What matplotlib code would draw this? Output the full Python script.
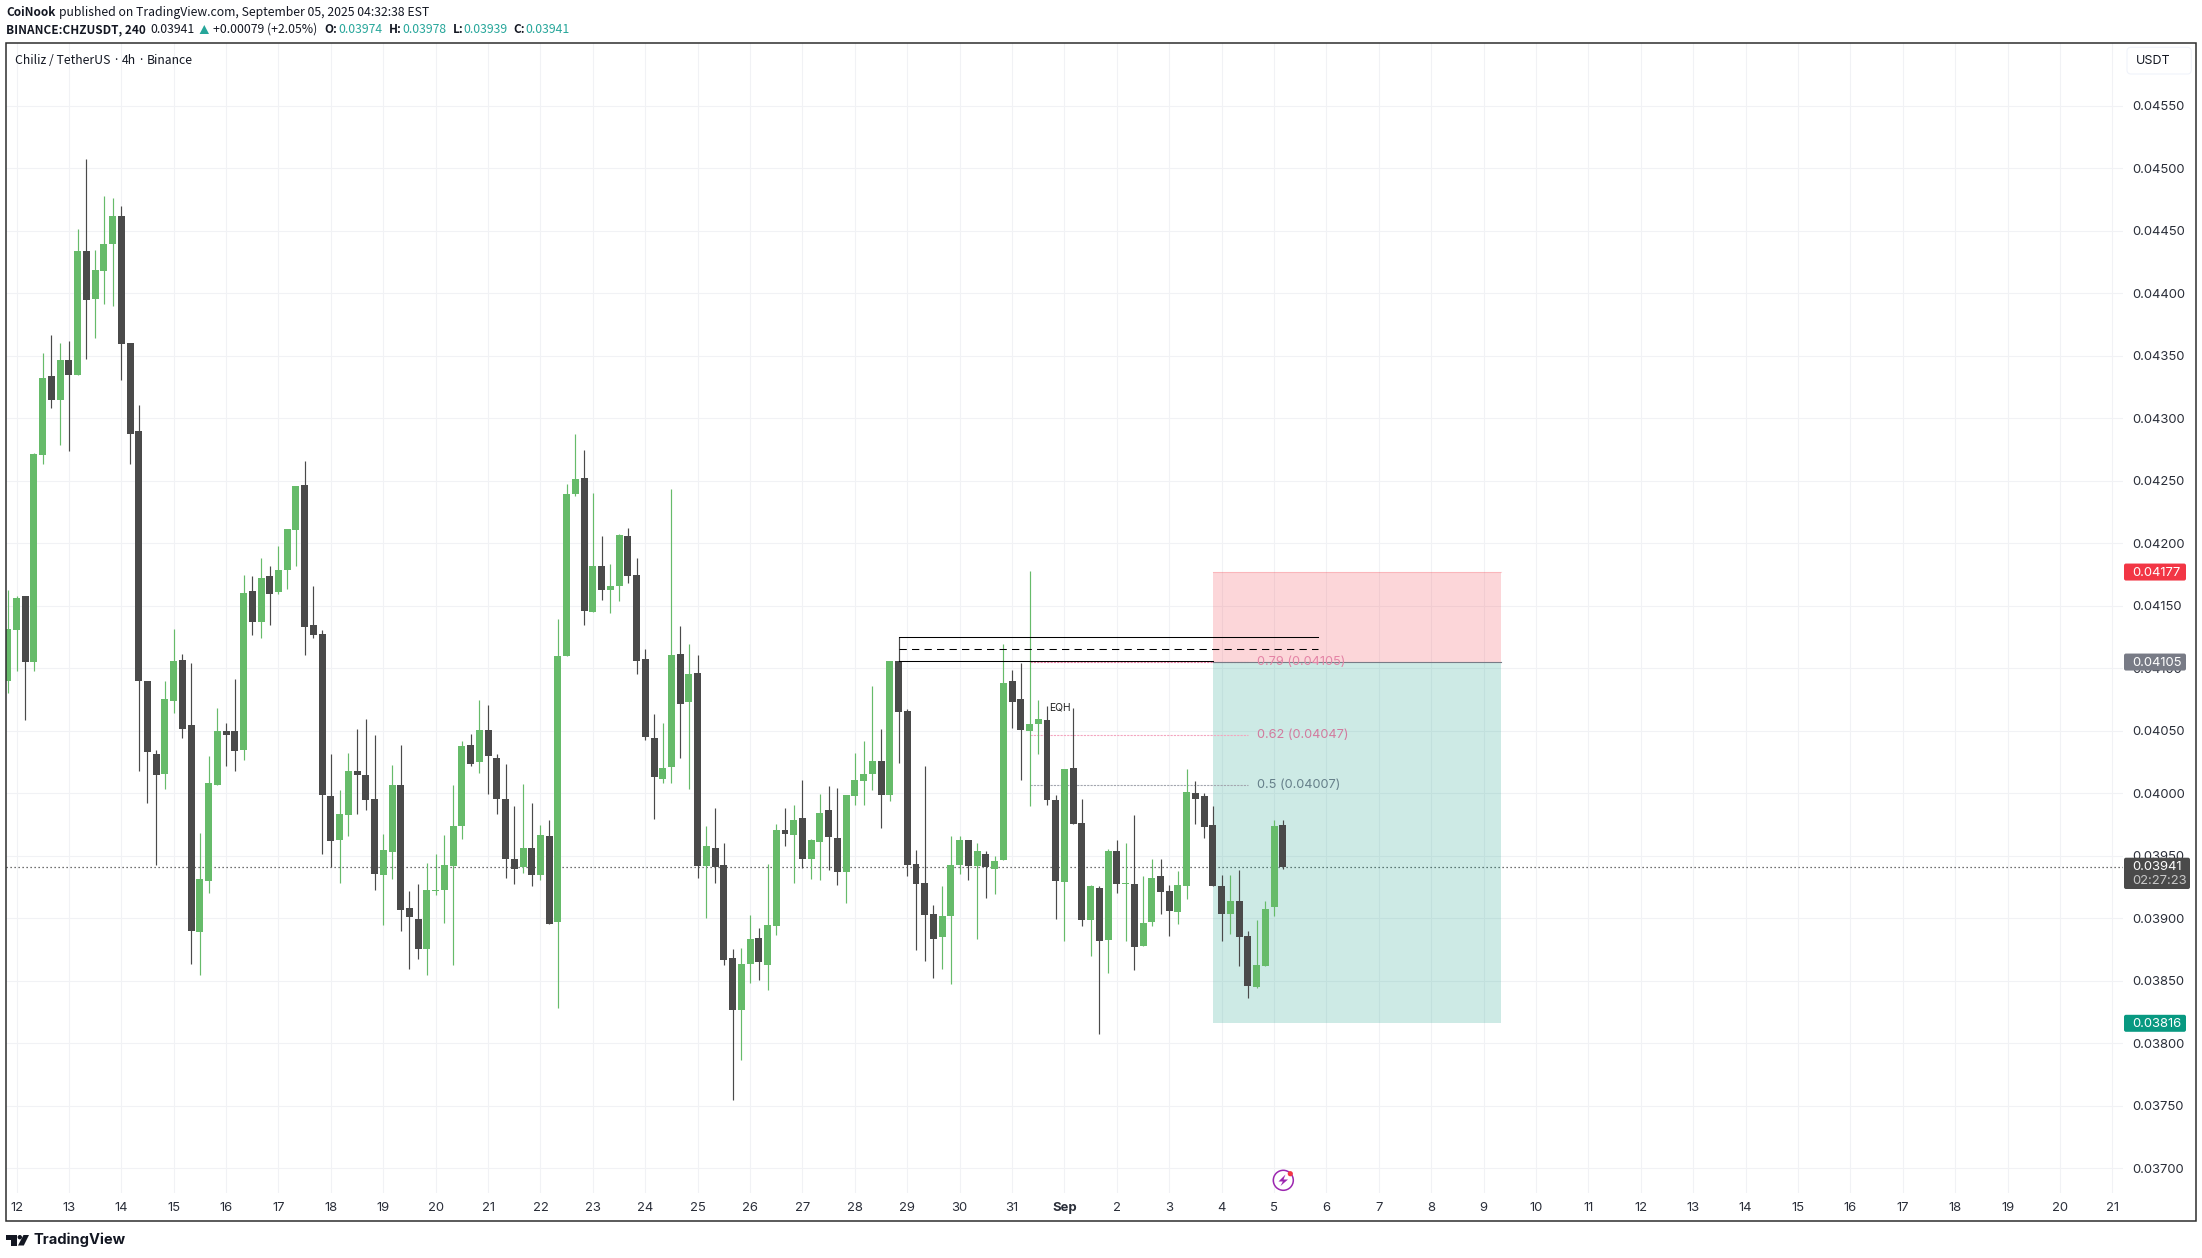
#!/usr/bin/env python3
"""CHZ/USDT 4h candles with a short position box, TradingView snapshot style"""

import matplotlib
matplotlib.use('Agg')
import numpy as np
import matplotlib.pyplot as plt
import matplotlib.transforms as mtransforms
from matplotlib.patches import Circle, Polygon, Rectangle, FancyBboxPatch

plt.rcParams['font.family'] = ['Inter', 'DejaVu Sans']

W, H = 2202, 1258

# prices below are in units of 1e-5 USDT
opens = [
    4089.8, 4130.6, 4157.8, 4105, 4270.6, 4333.8, 4314.6, 4346.6, 4334.6, 4433.8,
    4395.4, 4417.8, 4439.4, 4461.8, 4360.2, 4289.8, 4089.8, 4031.4, 4015.4, 4073.8,
    4106.6, 4054.6, 3889, 3929.8, 4006.6, 4049.8, 4049.8, 4034.6, 4161.8, 4137,
    4173.8, 4161, 4178.6, 4210.6, 4246.6, 4134.6, 4127.4, 3997.8, 3962.6, 3982.6,
    4017.8, 4014.6, 3995.4, 3934.6, 3953, 4006.6, 3908.2, 3899.4, 3875.4, 3921.8,
    3922.6, 3941.8, 3973.8, 4038.6, 4025, 4050.6, 4028.2, 3995.4, 3947.4, 3941.3,
    3956.2, 3934.6, 3965.8, 3897.2, 4109.7, 4239.3, 4252.2, 4145, 4181.8, 4162.5,
    4165.7, 4205.7, 4174.7, 4107.5, 4044.3, 4011.5, 4021.1, 4111.5, 4072.9, 4096.1,
    3941.8, 3956.1, 3942.5, 3868.2, 3826.8, 3863.6, 3884.3, 3862.9, 3894, 3970.7,
    3966.5, 3980, 3947.5, 3961.1, 3986.4, 3964.3, 3937.2, 3997.9, 4009.7, 4015.4,
    4025.7, 3998.6, 4105.7, 4065.7, 3943.2, 3928.2, 3903.2, 3885, 3901.8, 3942.5,
    3962.5, 3941.8, 3951.5, 3939.7, 3946.5, 4089.7, 4075.4, 4049.7, 4055.4, 4058.6,
    3994.7, 3929, 4020, 3976.1, 3898.6, 3924.3, 3882.6, 3953.8, 3927.4, 3927.4,
    3877.8, 3897, 3933.8, 3921.8, 3905, 3925.8, 4000.6, 3997.8, 3974.6, 3925.8,
    3903.4, 3913.8, 3885.8, 3845, 3861.8, 3909, 3974.6,
]
highs = [
    4162.6, 4157.8, 4157.8, 4272.5, 4352.5, 4366.6, 4360.2, 4361.8, 4451.4, 4507.4,
    4434.6, 4477.8, 4476.2, 4469.8, 4360.2, 4310.6, 4089.8, 4034.6, 4089.8, 4131.4,
    4111.4, 4104.2, 3968.2, 4029.8, 4068.2, 4056.2, 4091.4, 4174.6, 4173.8, 4188.2,
    4181.8, 4197.8, 4211.4, 4245.8, 4265.8, 4165.8, 4130.6, 4031.4, 4002.6, 4032.2,
    4051.4, 4059.4, 4046.6, 3967.4, 4022.6, 4038.6, 3921.8, 3927.4, 3944.2, 3951.4,
    3966.6, 4006.6, 4041.8, 4047.4, 4074.6, 4070.6, 4031.4, 4023.4, 3989.8, 4007.4,
    3992.2, 3974.6, 3978.6, 4139.7, 4247.5, 4287.5, 4274.7, 4240, 4205.7, 4183.2,
    4207.5, 4212.2, 4188.2, 4115.4, 4063.2, 4056.1, 4243.3, 4134, 4119.3, 4110.7,
    3974, 3988.2, 3960, 3875.4, 3876.1, 3902.5, 3892.2, 3943.2, 3975.4, 3988.2,
    3990.7, 4010.7, 3963.6, 3999.3, 4005.7, 4004.3, 3998.6, 4032.2, 4041.8, 4085.7,
    4051.5, 4105.7, 4125.4, 4067.5, 3954.7, 4021.8, 3910.7, 3925.7, 3965.7, 3965.7,
    3962.5, 3960, 3954, 3949.7, 4119.3, 4098.6, 4104.3, 4177.9, 4074.7, 4069.7,
    3998.6, 4019.3, 4068.2, 3995.7, 3926.4, 3925.8, 3955.4, 3962.6, 3960.2, 3982.6,
    3933.8, 3947.4, 3947.4, 3926.6, 3937.8, 4019.4, 4009.8, 4000.2, 3989.8, 3934.6,
    3934.6, 3938.6, 3889.8, 3898.6, 3913.8, 3978.6, 3978.6,
]
lows = [
    4080.5, 4098.1, 4058.6, 4098, 4263.4, 4308.5, 4278.6, 4273.8, 4334.6, 4347.4,
    4364.2, 4391.4, 4389.8, 4330.6, 4263.4, 4017.8, 3992.2, 3942.6, 4003.4, 4064.2,
    4044.2, 3863.4, 3854.6, 3920.2, 4006.6, 4021.8, 4017.8, 4026.6, 4126.6, 4124.2,
    4134.6, 4159.4, 4163.4, 4181.8, 4110.6, 4124.2, 3951.4, 3941.3, 3928.2, 3965.8,
    3983.4, 3986.6, 3922.6, 3894.6, 3931.4, 3889.8, 3859.4, 3867.4, 3854.6, 3918.6,
    3896.2, 3862.6, 3963.4, 4021.8, 4016.2, 3999.4, 3983.4, 3932.2, 3927.4, 3936.2,
    3925.8, 3930.6, 3895.4, 3828.6, 4109.7, 4237.9, 4134.7, 4145, 4154.7, 4144.3,
    4154, 4168.2, 4095.4, 4042.5, 3979.3, 4008.6, 4008.6, 4028.2, 4003.2, 3932.5,
    3900, 3927.9, 3862.5, 3754.7, 3786.8, 3848.6, 3850.7, 3842.5, 3886.8, 3957.9,
    3928.2, 3940, 3931.5, 3930.7, 3939, 3926.5, 3912.2, 3990.7, 3990.7, 4002.5,
    3972.2, 3994, 4024.3, 3934, 3874.7, 3865.7, 3852.2, 3859.3, 3847.5, 3935.4,
    3930.7, 3883.2, 3916.1, 3919.3, 3946.5, 4052.2, 4010.7, 3989.7, 4031.5, 3990.7,
    3899.3, 3881.8, 3975.4, 3894, 3869.7, 3807.4, 3856.5, 3920.2, 3881.8, 3858.6,
    3877.8, 3893.8, 3903.4, 3885.8, 3895.4, 3915.4, 3975.4, 3964.2, 3925.8, 3881.8,
    3887.4, 3861.8, 3836.2, 3844.2, 3861.8, 3901.8, 3939.4,
]
closes = [
    4131.4, 4156.2, 4105, 4271.4, 4332.2, 4314.6, 4346.6, 4334.6, 4433.8, 4394.6,
    4418.6, 4439.4, 4461.8, 4359.4, 4287.4, 4089.8, 4033, 4014.6, 4075.4, 4105.8,
    4051.4, 3889.8, 3931.4, 4008.2, 4049.8, 4046.6, 4033.8, 4160.2, 4137, 4172.2,
    4159.4, 4178.6, 4211.4, 4245.8, 4133, 4126.6, 3998.6, 3961.8, 3983.4, 4017.8,
    4014.6, 3994.6, 3935.4, 3954.6, 4006.6, 3906.6, 3901, 3875.4, 3922.6, 3922.6,
    3942.6, 3973.8, 4037.8, 4023.4, 4050.6, 4029.8, 3995.4, 3947.4, 3939.4, 3956.2,
    3934.6, 3966.6, 3895.4, 4109.7, 4239.3, 4251.5, 4145.7, 4181.8, 4162.5, 4165.7,
    4206.5, 4174, 4105.7, 4045, 4012.9, 4020, 4110.7, 4071.5, 4095.4, 3941.8,
    3957.9, 3941.1, 3866.5, 3826.8, 3863.2, 3883.2, 3865, 3894.7, 3970.7, 3967.5,
    3978.6, 3947.5, 3962.5, 3984.3, 3965, 3937.2, 3998.6, 4010.7, 4015.4, 4025.7,
    3998.6, 4105.7, 4065, 3942.5, 3927.5, 3902.5, 3883.2, 3901.8, 3942.5, 3962.5,
    3941.8, 3954, 3941.1, 3946.1, 4088.3, 4072.9, 4050.7, 4055.4, 4059.3, 3994.7,
    3929.7, 4019.3, 3975.4, 3898.6, 3925.7, 3881.8, 3953.8, 3927.4, 3928.2, 3877,
    3896.2, 3932.2, 3921, 3905.8, 3926.6, 4001.4, 3995.4, 3973, 3925.8, 3903.4,
    3913.8, 3885, 3845.8, 3862.6, 3907.4, 3973.8, 3941,
]
bar_index = np.arange(-1, len(opens) - 1)

day_labels = [str(d) for d in range(12, 32)] + ['Sep'] + [str(d) for d in range(2, 22)]
price_ticks = np.arange(3700, 4551, 50)

last_price = 3941
stop_price, entry_price, target_price = 4177, 4105, 3816
liq_top, liq_mid, liq_bottom = 4125.4, 4115.1, 4105.5
fib_levels = [(0.79, 4105), (0.62, 4047), (0.5, 4007)]

GREEN = '#66BB6A'
DARK = '#4A4A4A'
GRID = '#F1F2F5'
TEXT = '#2A2E39'

# image pixel coordinates, y pointing down
px = mtransforms.Affine2D().scale(1, -1).translate(0, H)

fig = plt.figure(figsize=(W / 100, H / 100), dpi=100, facecolor='white')

# plot area in pixels: x 6.4..2122.7, y 43.3..1192.7
left, right, top, bottom = 6.4, 2122.7, 43.3, 1192.7
ax = fig.add_axes([left / W, 1 - bottom / H, (right - left) / W, (bottom - top) / H])
ax.set_xlim((left - 16.5) / 8.733, (right - 16.5) / 8.733)
ax.set_ylim(4000 + (793.3 - bottom) * 0.8, 4000 + (793.3 - top) * 0.8)
for s in ax.spines.values():
    s.set_visible(False)

ax.set_xticks(np.arange(len(day_labels)) * 6)
ax.set_xticklabels(day_labels, fontsize=9.4, color=TEXT)
ax.get_xticklabels()[day_labels.index('Sep')].set_fontweight('bold')
ax.yaxis.tick_right()
ax.set_yticks(price_ticks)
ax.set_yticklabels([f'{p / 1e5:.5f}' for p in price_ticks], fontsize=9.4, color=TEXT)
ax.tick_params(axis='both', length=0)
ax.tick_params(axis='x', pad=7)
ax.tick_params(axis='y', pad=6.9)
ax.grid(True, color=GRID, linewidth=0.8, zorder=0)
ax.set_axisbelow(True)

# last price line
ax.axhline(last_price, color='#434343', linewidth=0.9, linestyle=(0, (1, 2.2)), zorder=1)

# position box
ax.add_patch(Rectangle((137, entry_price), 33, stop_price - entry_price,
                       facecolor='#F23645', alpha=0.2, edgecolor='none', zorder=2))
ax.add_patch(Rectangle((137, target_price), 33, entry_price - target_price,
                       facecolor='#089981', alpha=0.2, edgecolor='none', zorder=2))
ax.plot([137, 170], [stop_price, stop_price], color='#F23645', alpha=0.2, linewidth=0.8, zorder=2)

# candles
for i, o, h, l, c in zip(bar_index, opens, highs, lows, closes):
    color = GREEN if c >= o else DARK
    ax.vlines(i, l, h, color=color, linewidth=0.85, zorder=3)
    ax.bar(i, max(abs(c - o), 0.8), bottom=min(o, c), width=0.8, color=color,
           linewidth=0, zorder=3)

# liquidity box lines
ax.plot([101, 149], [liq_top, liq_top], color='black', linewidth=0.75, zorder=4)
ax.plot([101, 149], [liq_mid, liq_mid], color='black', linewidth=0.75,
        linestyle=(0, (7, 5)), zorder=4)
ax.plot([101, 137], [liq_bottom, liq_bottom], color='black', linewidth=0.75, zorder=4)
ax.plot([137, 170], [entry_price, entry_price], color='#787B86', linewidth=0.8, zorder=4)

# fib levels
fib_colors = ['#EC7FA5', '#F4A5C0', '#A3A6AF']
fib_text = ['#E483A6', '#D27B9E', '#66808A']
for (ratio, level), lc, tc in zip(fib_levels, fib_colors, fib_text):
    ax.plot([116, 141], [level, level], color=lc, linewidth=0.8,
            linestyle=(0, (2, 1)), zorder=2.5)
    ax.text(142, level, f'{ratio} ({level / 1e5:.5f})', color=tc, fontsize=9.2,
            va='center', ha='left', zorder=5)

ax.text(119.5, 4068.5, 'EQH', fontsize=7.4, color='#222222', ha='center', va='center', zorder=5)

# price tags on the axis
for price, color in [(stop_price, '#F23645'), (entry_price, '#787B86'), (target_price, '#089981')]:
    ty = 793.3 - (price - 4000) / 0.8
    ax.add_patch(FancyBboxPatch((2124, H - ty - 8.5), 62, 17,
                                boxstyle='round,pad=0,rounding_size=2', transform=None,
                                facecolor=color, edgecolor='none', clip_on=False, zorder=6))
    ax.text(2132.3, ty + 0.5, f'{price / 1e5:.5f}', transform=px,
            color='white', fontsize=9.4, va='center', ha='left', clip_on=False, zorder=7)
ax.add_patch(FancyBboxPatch((2124, H - 889), 66, 31.3, boxstyle='round,pad=0,rounding_size=2',
                            transform=None, facecolor='#4A4A4A', edgecolor='none',
                            clip_on=False, zorder=6))
ax.text(2132.3, 867.3, f'{last_price / 1e5:.5f}', transform=px, color='white', fontsize=9.4,
        va='center', ha='left', zorder=7)
ax.text(2132.3, 880.7, '02:27:23', transform=px, color='#C8C8C8', fontsize=9.4,
        va='center', ha='left', zorder=7)

# outer frame
fig.add_artist(Rectangle((6.4, 43.3), 2189.3, 1177.7, transform=px, facecolor='none',
                         edgecolor='#2E2E2E', linewidth=1.1))

# currency button
fig.add_artist(FancyBboxPatch((2127, H - 74), 64.3, 26.7, boxstyle='round,pad=0,rounding_size=4',
                              transform=None, facecolor='white', edgecolor='#F0F3FA',
                              linewidth=0.8))

# header texts
header_font = ['Noto Sans CJK SC', 'DejaVu Sans']
def label(x, y, s, color='#131722', weight='normal', size=8.8, family=header_font):
    fig.text(x, y, s, transform=px, color=color, fontweight=weight, fontsize=size,
             va='center', ha='left', family=family)

TEAL = '#26A69A'
label(6.5, 12.5, 'CoiNook', weight='bold', size=8.5)
label(59.4, 12.5, 'published on TradingView.com, September 05, 2025 04:32:38 EST')
label(6.5, 29.5, 'BINANCE:CHZUSDT, 240', weight='bold', size=8.5)
label(150.6, 29.5, '0.03941')
fig.add_artist(Polygon([(199.6, 34), (209, 34), (204.3, 25)], transform=px, facecolor=TEAL,
                       edgecolor='none'))
label(213.4, 29.5, '+0.00079 (+2.05%)')
for kx, k, vx, v in [(324.5, 'O:', 338.3, '0.03974'), (389.3, 'H:', 402.3, '0.03978'),
                     (453.3, 'L:', 463.6, '0.03939'), (513.8, 'C:', 525.7, '0.03941')]:
    label(kx, 29.5, k, weight='bold', size=8.5)
    label(vx, 29.5, v, color=TEAL)

# title parts, the CJK font has a full width middle dot
label(15.3, 61, 'Chiliz / TetherUS', weight='medium', size=8.8)
label(114.3, 61, '·', weight='bold', size=8.8, family=['Noto Sans', 'DejaVu Sans'])
label(121.5, 61, '4h', weight='medium', size=8.8)
label(139.2, 61, '·', weight='bold', size=8.8, family=['Noto Sans', 'DejaVu Sans'])
label(146.7, 61, 'Binance', weight='medium', size=8.8)
label(2136.3, 60.7, 'USDT', size=9, family=['Inter', 'DejaVu Sans'])

# TradingView logo
fig.add_artist(Polygon([(6.3, 1235), (17, 1235), (17, 1245.5), (10.7, 1245.5), (10.7, 1239.5),
                        (6.3, 1239.5)], transform=px, facecolor='#131722', edgecolor='none'))
fig.add_artist(Circle((19.8, 1237.2), 2.2, transform=px, facecolor='#131722', edgecolor='none'))
fig.add_artist(Polygon([(23.5, 1235), (29, 1235), (23.8, 1245.5), (18, 1245.5)], transform=px,
                       facecolor='#131722', edgecolor='none'))
label(33.5, 1240, 'TradingView', weight='bold', size=10.6, family=['Inter', 'DejaVu Sans'])

# alert icon
fig.add_artist(Circle((1283.3, 1180.3), 10, transform=px, facecolor='none', edgecolor='#9C27B0',
                      linewidth=1.1))
fig.add_artist(Polygon([(1285.5, 1174.5), (1278.5, 1181.5), (1282.8, 1181.5), (1280.5, 1186),
                        (1288, 1179.5), (1283.5, 1179.5)], transform=px, facecolor='#9C27B0',
                       edgecolor='none'))
fig.add_artist(Circle((1290.3, 1173.7), 2.6, transform=px, facecolor='#F23645', edgecolor='none'))

fig.savefig('out.png', dpi=100)
